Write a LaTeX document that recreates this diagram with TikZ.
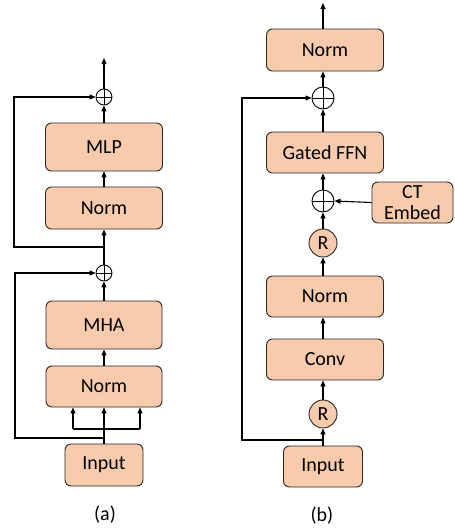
\documentclass[tikz,border=0pt]{standalone}
\usepackage{fontspec}
\setmainfont{Carlito}
\usetikzlibrary{arrows.meta}
\definecolor{peach}{HTML}{F8CBAD}
\tikzset{
  blk/.style={draw=black!85, fill=peach, rounded corners=6pt, line width=0.9pt,
    inner sep=0pt, font=\fontsize{20}{24}\selectfont, align=center},
  addc/.style={circle, draw=black, line width=0.9pt, inner sep=0pt, minimum size=#1,
    path picture={\draw[line width=0.9pt] (path picture bounding box.north) -- (path picture bounding box.south)
      (path picture bounding box.west) -- (path picture bounding box.east);}},
  rc/.style={circle, draw=black!85, fill=peach, line width=0.9pt, inner sep=0pt,
    minimum size=28pt, font=\fontsize{20}{24}\selectfont},
  ln/.style={line width=1.1pt, draw=black},
  ar/.style={ln, -{Triangle[length=6pt,width=5pt]}},
  lab/.style={font=\fontsize{20}{24}\selectfont}
}
\begin{document}
\begin{tikzpicture}[x=1pt,y=-1pt]
\useasboundingbox (0,0) rectangle (455,531);
% ---------- panel (a)
\node[blk, minimum width=78pt, minimum height=42pt] (inA) at (104,465) {Input};
\node[blk, minimum width=116pt, minimum height=41pt] (n1A) at (104,386.5) {Norm};
\node[blk, minimum width=116pt, minimum height=48pt] (mhaA) at (104,325) {MHA};
\node[addc=16pt] (add1A) at (104,273) {};
\node[blk, minimum width=117pt, minimum height=42pt] (n2A) at (104,208) {Norm};
\node[blk, minimum width=117pt, minimum height=48pt] (mlpA) at (104,147) {MLP};
\node[addc=16pt] (add2A) at (104,97) {};
\coordinate (topA) at (104,58);
\coordinate (s1A) at (104,438);
\coordinate (s1Ab) at (15,438);
\coordinate (s1At) at (15,273);
\coordinate (s2A) at (104,247);
\coordinate (s2Ab) at (14,247);
\coordinate (s2At) at (14,97);
\coordinate (brL) at (73,429);
\coordinate (brR) at (140,429);
\coordinate (brM) at (104,429);
\draw[ar] (inA.north) -- (n1A.south);
\draw[ln] (brL) -- (brR);
\draw[ar] (brL) -- (brL |- n1A.south);
\draw[ar] (brR) -- (brR |- n1A.south);
\draw[ar] (n1A) -- (mhaA);
\draw[ar] (mhaA) -- (add1A);
\draw[ar] (s1A) -- (s1Ab) -- (s1At) -- (add1A.west);
\draw[ar] (add1A) -- (n2A);
\draw[ar] (n2A) -- (mlpA);
\draw[ar] (mlpA) -- (add2A);
\draw[ar] (s2A) -- (s2Ab) -- (s2At) -- (add2A.west);
\draw[ar] (add2A) -- (topA);
\node[lab] (la) at (105,515) {(a)};
% ---------- panel (b)
\node[blk, minimum width=79pt, minimum height=41pt] (inB) at (323,466.5) {Input};
\node[rc] (r2B) at (323,414) {R};
\node[blk, minimum width=117pt, minimum height=41pt] (convB) at (325,359.5) {Conv};
\node[blk, minimum width=117pt, minimum height=41pt] (nB) at (325,296.5) {Norm};
\node[rc] (r1B) at (323,243) {R};
\node[addc=22pt] (add2B) at (323,201) {};
\node[blk, minimum width=81pt, minimum height=41pt, font=\fontsize{20}{22}\selectfont] (ctB) at (412.5,202.5) {CT\\[-1pt]Embed};
\node[blk, minimum width=117pt, minimum height=41pt] (ffnB) at (325,152.5) {Gated FFN};
\node[addc=22pt] (add1B) at (323,98) {};
\node[blk, minimum width=117pt, minimum height=42pt] (ntB) at (325,50) {Norm};
\coordinate (topB) at (323,3);
\coordinate (sB) at (323,440);
\coordinate (sBb) at (242,440);
\coordinate (sBt) at (242,98);
\draw[ar] (inB.north) -- (r2B);
\draw[ar] (r2B) -- (r2B |- convB.south);
\draw[ar] (convB.north -| r2B) -- (nB.south -| r2B);
\draw[ar] (nB.north -| r1B) -- (r1B);
\draw[ar] (r1B) -- (add2B);
\draw[ar] (ctB.west) -- (add2B.east);
\draw[ar] (add2B) -- (add2B |- ffnB.south);
\draw[ar] (ffnB.north -| add1B) -- (add1B);
\draw[ar] (add1B) -- (add1B |- ntB.south);
\draw[ar] (ntB.north -| topB) -- (topB);
\draw[ar] (sB) -- (sBb) -- (sBt) -- (add1B.west);
\node[lab] (lb) at (322,516) {(b)};
\end{tikzpicture}
\end{document}
